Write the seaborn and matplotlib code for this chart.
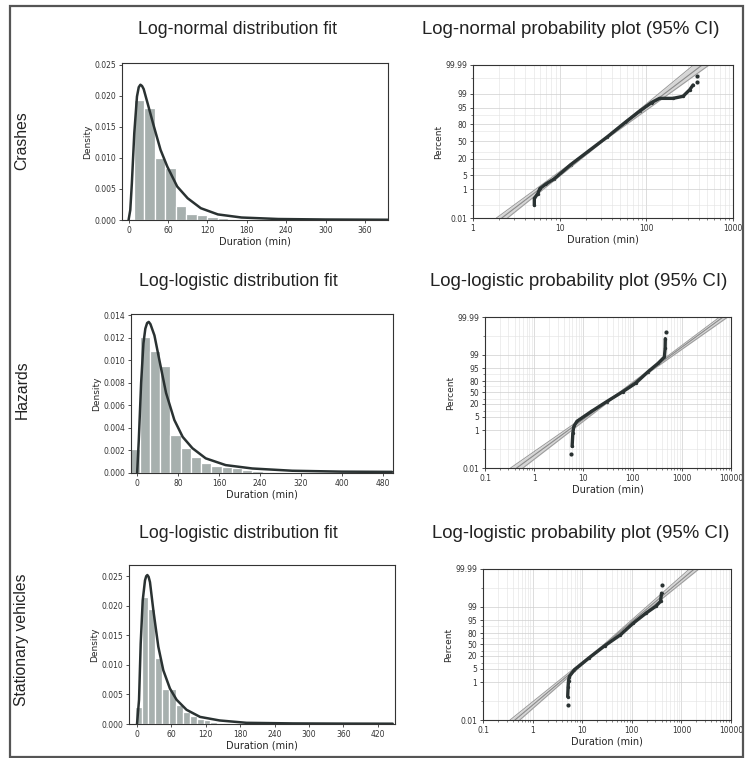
from statistics import NormalDist

import numpy as np
import matplotlib
matplotlib.use('Agg')
import matplotlib.pyplot as plt
from matplotlib.patches import Rectangle
from matplotlib.ticker import FixedLocator, FixedFormatter, NullFormatter
import seaborn as sns

# ---- datos ----
# Histogramas (densidad) + curva ajustada
crash_edges = [8, 24, 40, 56, 72, 88, 104, 120, 136, 152, 168]
crash_dens = [0.0193, 0.0180, 0.0100, 0.0083, 0.0022, 0.0010, 0.0008, 0.0005, 0.0004, 0.0002]
crash_fit_x = [0, 2.6, 5, 8.7, 12.8, 15.5, 18, 20.5, 23, 29, 38.5, 48.7, 59, 74, 90, 110, 136, 172, 228, 300, 395]
crash_fit_y = [0, 0.0016, 0.0059, 0.0140, 0.0199, 0.0214, 0.0218, 0.0216, 0.0211, 0.0188, 0.0151, 0.0113,
               0.0086, 0.0054, 0.0035, 0.0019, 0.0009, 0.0004, 0.00016, 0.00008, 0.00004]

hazard_edges = [-15, 5, 25, 45, 65, 85, 105, 125, 145, 165, 185, 205, 225, 245, 265]
hazard_dens = [0.0021, 0.0121, 0.0108, 0.0095, 0.0034, 0.0022, 0.0014, 0.0009, 0.0006, 0.0005,
               0.0004, 0.0003, 0.0002, 0.0001]
hazard_fit_x = [0, 3.2, 7.8, 12.3, 16, 19.5, 22.7, 26, 33.8, 43.5, 56.5, 72.7, 89, 108, 134, 173, 225, 303, 400, 498]
hazard_fit_y = [0, 0.0029, 0.0080, 0.0115, 0.0128, 0.0133, 0.0134, 0.0132, 0.0122, 0.0100, 0.0071, 0.0047,
                0.0032, 0.0022, 0.0013, 0.0007, 0.0004, 0.0002, 0.00012, 0.0001]

stat_edges = [-4, 8, 20, 32, 44, 56, 68, 80, 92, 104, 116, 128, 140, 152]
stat_dens = [0.0029, 0.0215, 0.0195, 0.0112, 0.0060, 0.0060, 0.0032, 0.0021, 0.0013, 0.0009, 0.0006,
             0.0004, 0.0002]
stat_fit_x = [0, 3.5, 6.4, 9.9, 13.9, 16, 18, 20.2, 22.6, 28.4, 37.1, 45.8, 57.4, 69, 86.4, 110, 144, 191,
              272, 350, 446]
stat_fit_y = [0, 0.0041, 0.0136, 0.0209, 0.0243, 0.0250, 0.0252, 0.0249, 0.0240, 0.0193, 0.0131, 0.0091,
              0.0060, 0.0041, 0.0024, 0.0012, 0.0006, 0.0002, 0.0001, 0.00007, 0.00005]

# Graficos de probabilidad: puntos empiricos (duracion, percentil)
crash_pp_x = [5.1, 5.1, 5.6, 5.9, 7.0, 8.6, 13.4, 21.5, 35.5, 58, 85, 115, 142, 203, 265, 316, 346]
crash_pp_pct = [0.1, 0.28, 0.57, 1.1, 2.0, 3.4, 13, 32, 59, 83, 93.3, 97.1, 98.2, 98.2, 98.6, 99.4, 99.7]
crash_out_x = [388, 388]
crash_out_pct = [99.81, 99.93]

hazard_pp_x = [5.9, 6.1, 6.4, 7.4, 14.5, 30, 64, 115, 208, 328, 443, 458, 462]
hazard_pp_pct = [0.14, 0.71, 1.6, 2.9, 9, 25, 53, 75.6, 92.8, 97.2, 98.7, 99.54, 99.86]
hazard_out_x = [5.5, 477]
hazard_out_pct = [0.058, 99.94]

stat_pp_x = [5.1, 5.2, 5.3, 5.5, 6.9, 13.5, 28.4, 59, 107, 195, 302, 380, 398]
stat_pp_pct = [0.17, 0.59, 1.2, 1.96, 4.3, 15.8, 46, 76.5, 93.1, 97.9, 99.05, 99.48, 99.81]
stat_out_x = [5.1, 410]
stat_out_pct = [0.062, 99.93]

# Recta ajustada y banda IC 95% en percentiles 0.01 / 50 / 99.99
ci_pct = [0.01, 50, 99.99]
crash_fit_line = [2.15, 30.6, 440]
crash_ci_lo = [1.86, 29.8, 350]
crash_ci_hi = [2.5, 31.4, 530]
hazard_fit_line = [0.44, 55, 6900]
hazard_ci_lo = [0.33, 53, 5900]
hazard_ci_hi = [0.59, 57, 8600]
stat_fit_line = [0.44, 28.3, 1820]
stat_ci_lo = [0.35, 27.3, 1450]
stat_ci_hi = [0.55, 29.3, 2250]

pct_ticks = [0.01, 1, 5, 20, 50, 80, 95, 99, 99.99]
pct_labels = ['0.01', '1', '5', '20', '50', '80', '95', '99', '99.99']
pct_minor = [0.1, 10, 30, 70, 90, 99.9]

titles_left = ['Log-normal distribution fit', 'Log-logistic distribution fit', 'Log-logistic distribution fit']
titles_right = ['Log-normal probability plot (95% CI)', 'Log-logistic probability plot (95% CI)',
                'Log-logistic probability plot (95% CI)']
row_names = ['Crashes', 'Hazards', 'Stationary vehicles']

# ---- estilo ----
sns.set_style('ticks')
plt.rcParams['font.family'] = ['DejaVu Sans']
BAR = '#a7b0ae'
DARK = '#2a3232'
W, H = 746, 758
ARIAL = ['Liberation Sans', 'DejaVu Sans']

_nd = NormalDist()
_inv = np.vectorize(_nd.inv_cdf, otypes=[float])
_cdf = np.vectorize(_nd.cdf, otypes=[float])


def norm_fwd(p):
    p = np.clip(np.asarray(p, dtype=float) / 100.0, 1e-12, 1 - 1e-12)
    return _inv(p)


def norm_inv(z):
    return 100.0 * _cdf(np.asarray(z, dtype=float))


def logit_fwd(p):
    p = np.clip(np.asarray(p, dtype=float) / 100.0, 1e-12, 1 - 1e-12)
    return np.log(p / (1 - p))


def logit_inv(z):
    return 100.0 / (1 + np.exp(-np.asarray(z, dtype=float)))


def px_axes(fig, x0, y0, x1, y1):
    return fig.add_axes([x0 / W, 1 - y1 / H, (x1 - x0) / W, (y1 - y0) / H])


def style_axes(ax):
    for s in ax.spines.values():
        s.set_color('#333333')
        s.set_linewidth(0.8)
    ax.tick_params(which='major', length=2.5, width=0.6, labelsize=5.5, pad=1.5, colors='#333333')
    ax.tick_params(which='minor', length=1.2, width=0.4)
    ax.set_xlabel('Duration (min)', fontsize=7, labelpad=1.5)


def draw_hist(ax, edges, dens, fx, fy, xlim, ylim, xticks, yticks):
    mids = (np.array(edges[:-1]) + np.array(edges[1:])) / 2
    sns.histplot(x=mids, weights=dens, bins=edges, stat='count', color=BAR, alpha=1,
                 edgecolor='white', linewidth=0.9, ax=ax)
    sns.lineplot(x=fx, y=fy, color=DARK, linewidth=1.8, sort=False, estimator=None, ax=ax)
    ax.set_xlim(*xlim)
    ax.set_ylim(*ylim)
    ax.set_xticks(xticks)
    ax.set_yticks(yticks)
    ax.set_yticklabels([f'{v:.3f}' for v in yticks])
    style_axes(ax)
    ax.set_ylabel('Density', fontsize=6.5, labelpad=2)


def draw_prob(ax, funcs, xlim, xticks, xlabels, fit, lo, hi, px, pp, ox, op):
    ax.set_xscale('log')
    ax.set_yscale('function', functions=funcs)
    ax.set_axisbelow(True)
    ax.fill_betweenx(ci_pct, lo, hi, color='#d6d6d6', linewidth=0, zorder=1)
    sns.lineplot(x=lo, y=ci_pct, color='#9a9a9a', linewidth=0.7, sort=False, estimator=None, ax=ax)
    sns.lineplot(x=hi, y=ci_pct, color='#9a9a9a', linewidth=0.7, sort=False, estimator=None, ax=ax)
    sns.lineplot(x=fit, y=ci_pct, color='#8a8a8a', linewidth=0.8, sort=False, estimator=None, ax=ax)
    sns.lineplot(x=px, y=pp, color=DARK, linewidth=2.4, sort=False, estimator=None, ax=ax)
    sns.scatterplot(x=px, y=pp, color=DARK, s=6, linewidth=0, ax=ax)
    sns.scatterplot(x=ox, y=op, color=DARK, s=9, linewidth=0, ax=ax)
    ax.set_xlim(*xlim)
    ax.set_ylim(0.01, 99.99)
    ax.set_xticks(xticks)
    ax.set_xticklabels(xlabels)
    ax.yaxis.set_major_locator(FixedLocator(pct_ticks))
    ax.yaxis.set_major_formatter(FixedFormatter(pct_labels))
    ax.yaxis.set_minor_locator(FixedLocator(pct_minor))
    ax.yaxis.set_minor_formatter(NullFormatter())
    ax.grid(True, which='major', color='#cfcfcf', linewidth=0.5)
    ax.grid(True, which='minor', color='#e2e2e2', linewidth=0.4)
    style_axes(ax)
    ax.set_ylabel('Percent', fontsize=6.5, labelpad=2)


fig = plt.figure(figsize=(W / 100, H / 100), dpi=100)

# fila 1: Crashes
ax = px_axes(fig, 122, 63, 388, 220)
draw_hist(ax, crash_edges, crash_dens, crash_fit_x, crash_fit_y, (-10, 395), (0, 0.0253),
          [0, 60, 120, 180, 240, 300, 360], [0, 0.005, 0.010, 0.015, 0.020, 0.025])
ax = px_axes(fig, 473, 65, 733, 218)
draw_prob(ax, (norm_fwd, norm_inv), (1, 1000), [1, 10, 100, 1000], ['1', '10', '100', '1000'],
          crash_fit_line, crash_ci_lo, crash_ci_hi, crash_pp_x, crash_pp_pct, crash_out_x, crash_out_pct)

# fila 2: Hazards
ax = px_axes(fig, 131, 314, 393, 473)
draw_hist(ax, hazard_edges, hazard_dens, hazard_fit_x, hazard_fit_y, (-12, 500), (0, 0.0141),
          [0, 80, 160, 240, 320, 400, 480], [0, 0.002, 0.004, 0.006, 0.008, 0.010, 0.012, 0.014])
ax = px_axes(fig, 485, 317, 731, 468)
draw_prob(ax, (logit_fwd, logit_inv), (0.1, 10000), [0.1, 1, 10, 100, 1000, 10000],
          ['0.1', '1', '10', '100', '1000', '10000'],
          hazard_fit_line, hazard_ci_lo, hazard_ci_hi, hazard_pp_x, hazard_pp_pct, hazard_out_x, hazard_out_pct)

# fila 3: Stationary vehicles
ax = px_axes(fig, 129, 565, 395, 724)
draw_hist(ax, stat_edges, stat_dens, stat_fit_x, stat_fit_y, (-14, 450), (0, 0.0269),
          [0, 60, 120, 180, 240, 300, 360, 420], [0, 0.005, 0.010, 0.015, 0.020, 0.025])
ax = px_axes(fig, 483, 569, 731, 720)
draw_prob(ax, (logit_fwd, logit_inv), (0.1, 10000), [0.1, 1, 10, 100, 1000, 10000],
          ['0.1', '1', '10', '100', '1000', '10000'],
          stat_fit_line, stat_ci_lo, stat_ci_hi, stat_pp_x, stat_pp_pct, stat_out_x, stat_out_pct)

# titulos y etiquetas de fila (texto anadido a mano en la figura original)
title_y = [30, 281, 533]
left_cx = [237, 238, 238]
right_cx = [571, 579, 581]
row_cy = [141, 390, 640]
for i in range(3):
    fig.text(left_cx[i] / W, 1 - title_y[i] / H, titles_left[i], ha='center', va='center',
             fontsize=12.8, family=ARIAL, color='#222222')
    fig.text(right_cx[i] / W, 1 - title_y[i] / H, titles_right[i], ha='center', va='center',
             fontsize=13.4, family=ARIAL, color='#222222')
    fig.text(22 / W, 1 - row_cy[i] / H, row_names[i], ha='center', va='center', rotation=90,
             fontsize=11.3, family=ARIAL, color='#222222')

fig.patches.append(Rectangle((10 / W, 1 - 757 / H), 733 / W, 751 / H, transform=fig.transFigure,
                             fill=False, edgecolor='#555555', linewidth=1.6))

fig.savefig('out.png', dpi=100)
plt.close(fig)
